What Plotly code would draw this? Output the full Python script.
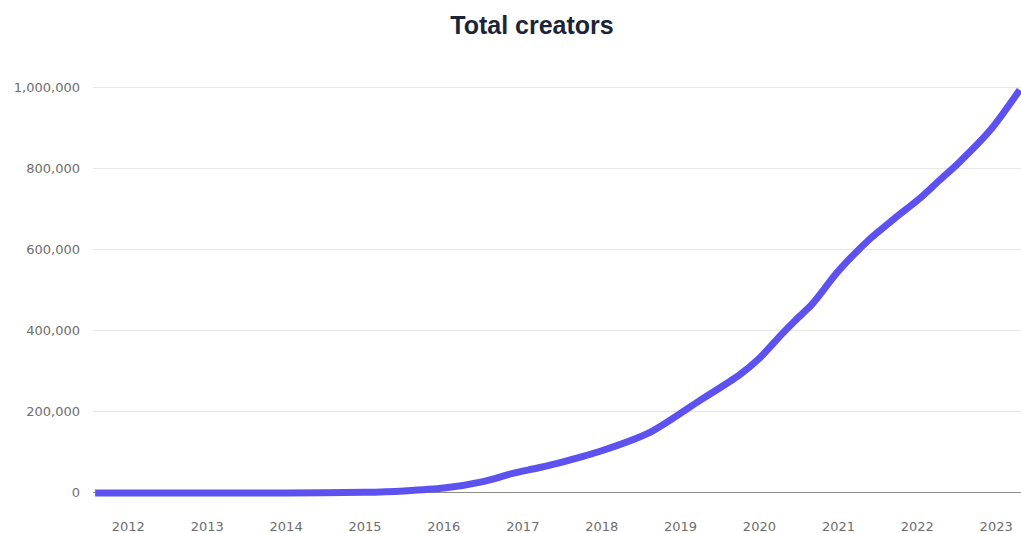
import plotly.graph_objects as go

dates = [
    "2011-08-01", "2013-01-01", "2014-01-01", "2015-01-01", "2015-07-01",
    "2016-01-01", "2016-07-01", "2016-11-15", "2017-03-15", "2017-07-15",
    "2018-01-01", "2018-08-15", "2019-04-01", "2019-10-01", "2020-01-01",
    "2020-04-15", "2020-06-15", "2020-09-01", "2021-01-01", "2021-05-25",
    "2021-09-15", "2022-01-15", "2022-04-15", "2022-07-15", "2022-12-05",
    "2023-04-20",
]
creators = [
    0, 0, 0, 1500, 5000,
    12000, 28000, 48000, 62000, 78000,
    104000, 150000, 228000, 291000, 332000,
    392000, 425000, 465000, 547000, 625000,
    675000, 727000, 771000, 815000, 894000,
    993000,
]

y_ticks = [0, 200000, 400000, 600000, 800000, 1000000]
y_tick_labels = ["0", "200,000", "400,000", "600,000", "800,000", "1,000,000"]

fig = go.Figure()
fig.add_trace(go.Scatter(
    x=dates, y=creators, mode="lines",
    line=dict(color="#5d52f0", width=7, shape="spline", smoothing=0.8),
    hoverinfo="skip",
))

tick_font = dict(family="DejaVu Sans, Verdana, sans-serif", size=13, color="#6e6e6e")

fig.update_layout(
    width=1021, height=533,
    margin=dict(l=93, r=0, t=81, b=34),
    paper_bgcolor="white", plot_bgcolor="white",
    showlegend=False,
    font=tick_font,
    title=dict(
        text="<b>Total creators</b>",
        font=dict(family="Liberation Sans, Arial, sans-serif", size=25, color="#1c2537"),
        xref="container", yref="container",
        x=532 / 1021, xanchor="center",
        y=1 - 25 / 533, yanchor="middle",
    ),
)

fig.update_xaxes(
    type="date",
    range=["2011-07-22", "2023-04-26"],
    tick0="2012-01-01", dtick="M12", tickformat="%Y",
    showgrid=False, showline=False, zeroline=False,
    ticks="", ticklabelstandoff=18,
    tickfont=tick_font,
)
fig.update_yaxes(
    range=[-15000, 1015000],
    tickvals=y_ticks, ticktext=y_tick_labels,
    showgrid=True, gridcolor="#e6e6e6", gridwidth=1,
    zeroline=True, zerolinecolor="#8c8c8c", zerolinewidth=1,
    showline=False, ticks="", ticklabelstandoff=12,
    tickfont=tick_font,
)

fig.write_html("out.html")
